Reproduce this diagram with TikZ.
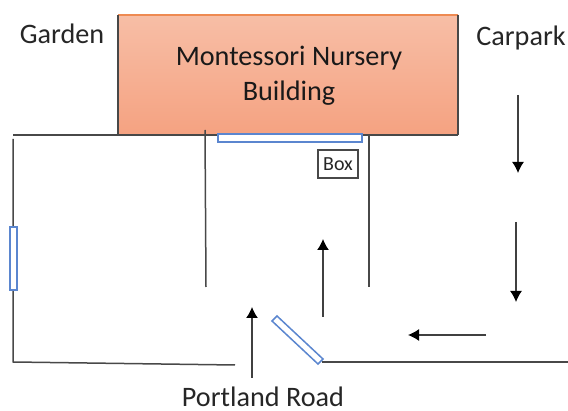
\documentclass[tikz,border=0pt]{standalone}
\usepackage{fontspec,tkz-euclide}
\setmainfont{Carlito}
\usetikzlibrary{arrows.meta}
\definecolor{wallgrey}{HTML}{484848}
\definecolor{gateblue}{HTML}{5B86CF}
\definecolor{roofline}{HTML}{EE8A52}
\definecolor{buildtop}{HTML}{F7BEA6}
\definecolor{buildbot}{HTML}{F5A281}
\tikzset{
    wall/.style={draw=wallgrey, line width=1.5pt},
    route/.style={draw=black!75, line width=1.2pt, -{Latex[length=11pt,width=12pt,black]}},
    gate/.style={draw=gateblue, line width=1.5pt, fill=white},
    place/.style={text=black!85, inner sep=0pt, font=\fontsize{28.2}{35}\selectfont}
}
\begin{document}
\begin{tikzpicture}[x=1pt,y=1pt]
    \useasboundingbox (0,0) rectangle (568,410);
    % building
    \shade[top color=buildtop, bottom color=buildbot] (118,395) rectangle (458,275);
    \tkzDefPoint(118,395){BA}
    \tkzDefPoint(458,395){BB}
    \tkzDefPoint(458,275){BC}
    \tkzDefPoint(118,275){BD}
    \draw[roofline, line width=1.5pt] (BA) -- (BB);
    \draw[wall] (BA) -- (BD);
    \draw[wall] (BB) -- (BC);
    \node[place, align=center, text=black!90] (nursery) at (289,334) {Montessori Nursery\\Building};
    % walls
    \tkzDefPoint(13,275){WA}
    \tkzDefPoint(13,271){WB}
    \tkzDefPoint(13,48){WC}
    \tkzDefPoint(235,45){WD}
    \tkzDefPoint(205,280){MA}
    \tkzDefPoint(206,123){MB}
    \tkzDefPoint(369,275){RA}
    \tkzDefPoint(369,123){RB}
    \tkzDefPoint(322,48){SA}
    \tkzDefPoint(568,48){SB}
    \draw[wall] (WA) -- (BC);
    \draw[wall] (WB) -- (WC) -- (WD);
    \draw[wall] (MA) -- (MB);
    \draw[wall] (RA) -- (RB);
    \draw[wall] (SA) -- (SB);
    % gates
    \draw[gate] (218,276) rectangle (362,268);
    \draw[gate] (10,183) rectangle (17,120);
    \tkzDefPoint(272,89){GA}
    \tkzDefPoint(277,94){GB}
    \tkzDefPoint(323,51){GC}
    \tkzDefPoint(318,46){GD}
    \draw[gate] (GA) -- (GB) -- (GC) -- (GD) -- cycle;
    % box
    \node[draw=wallgrey, line width=1.3pt, minimum width=40pt, minimum height=28pt, inner sep=0pt,
        text=black!85, font=\fontsize{20}{20}\selectfont] (box) at (338,246) {Box};
    % labels
    \node[place] (garden) at (62,376) {Garden};
    \node[place] (carpark) at (521,372) {Carpark};
    \node[place] (portland) at (263,13) {Portland Road};
    % arrows
    \tkzDefPoint(518,315){AA}
    \tkzDefPoint(518,237){AB}
    \tkzDefPoint(516,188){AC}
    \tkzDefPoint(516,108){AD}
    \tkzDefPoint(486,75){AE}
    \tkzDefPoint(408,75){AF}
    \tkzDefPoint(323,93){AG}
    \tkzDefPoint(323,171){AH}
    \tkzDefPoint(252,32){AI}
    \tkzDefPoint(252,103){AJ}
    \draw[route] (AA) -- (AB);
    \draw[route] (AC) -- (AD);
    \draw[route] (AE) -- (AF);
    \draw[route] (AG) -- (AH);
    \draw[route] (AI) -- (AJ);
\end{tikzpicture}
\end{document}
